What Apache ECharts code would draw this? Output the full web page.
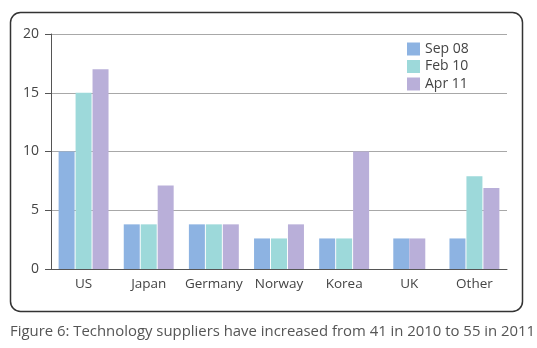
<!DOCTYPE html>
<html>
<head>
<meta charset="utf-8">
<script src="https://cdn.jsdelivr.net/npm/echarts@6/dist/echarts.min.js"></script>
<style>html,body{margin:0;padding:0;background:#fff;}#c{width:537px;height:348px;}</style>
</head>
<body>
<div id="c"></div>
<script>
var categories = ['US', 'Japan', 'Germany', 'Norway', 'Korea', 'UK', 'Other'];
var sep08 = [10, 3.8, 3.8, 2.6, 2.6, 2.6, 2.6];
var feb10 = [15, 3.8, 3.8, 2.6, 2.6, null, 7.9];
var apr11 = [17, 7.1, 3.8, 3.8, 10, 2.6, 6.9];
var seriesNames = ['Sep 08', 'Feb 10', 'Apr 11'];
var yTicks = [0, 5, 10, 15, 20];
var caption = 'Figure 6: Technology suppliers have increased from 41 in 2010 to 55 in 2011';

var colors = ['#8db3e2', '#9dd9da', '#b9afd9'];
var FONT = '"Open Sans", "Noto Sans", sans-serif';
var ukIndex = categories.indexOf('UK');
function mainPart(arr) { return arr.map(function (v, i) { return i === ukIndex ? null : v; }); }
function ukPart(arr) { return arr.map(function (v, i) { return i === ukIndex ? v : null; }); }

var chart = echarts.init(document.getElementById('c'), null, { renderer: 'canvas' });
var series = [];
[sep08, feb10, apr11].forEach(function (arr, k) {
  series.push({
    name: seriesNames[k], type: 'bar', xAxisIndex: 0, barWidth: 16, barGap: '6%',
    itemStyle: { color: colors[k] }, data: mainPart(arr)
  });
});
[[sep08, 0], [apr11, 2]].forEach(function (p) {
  series.push({
    name: seriesNames[p[1]], type: 'bar', xAxisIndex: 1, barWidth: 16, barGap: '0%',
    itemStyle: { color: colors[p[1]] }, data: ukPart(p[0])
  });
});

chart.setOption({
  animation: false,
  title: {
    text: caption, left: 5, top: 319,
    textStyle: { fontFamily: FONT, fontSize: 14.9, fontWeight: 'normal', color: '#555' }
  },
  graphic: [{
    type: 'rect', shape: { x: 10.5, y: 12.5, width: 512, height: 299, r: 10 },
    style: { fill: 'none', stroke: '#333', lineWidth: 1.5 }, silent: true, z: -1
  }],
  legend: {
    data: seriesNames, orient: 'vertical', left: 402, top: 37,
    itemWidth: 13, itemHeight: 13, itemGap: 3.5, icon: 'rect',
    textStyle: { fontFamily: FONT, fontSize: 14, lineHeight: 13, color: '#444', padding: [0, 0, 0, 0] }
  },
  grid: { left: 51, right: 30, top: 34, bottom: 79, containLabel: false },
  xAxis: [{
    type: 'category', data: categories,
    axisLine: { show: true, lineStyle: { color: '#555', width: 1 } },
    axisTick: { show: false },
    axisLabel: { fontFamily: FONT, fontSize: 13.5, color: '#444', margin: 8, interval: 0 }
  }, {
    type: 'category', data: categories, show: false
  }],
  yAxis: {
    type: 'value', min: yTicks[0], max: yTicks[yTicks.length - 1], interval: 5,
    axisLine: { show: true, lineStyle: { color: '#555', width: 1 } },
    axisTick: { show: true, length: 6, lineStyle: { color: '#555' } },
    axisLabel: { fontFamily: FONT, fontSize: 14, color: '#444', margin: 12 },
    splitLine: { show: true, lineStyle: { color: '#a8a8a8', width: 1 } }
  },
  series: series
});
</script>
</body>
</html>
